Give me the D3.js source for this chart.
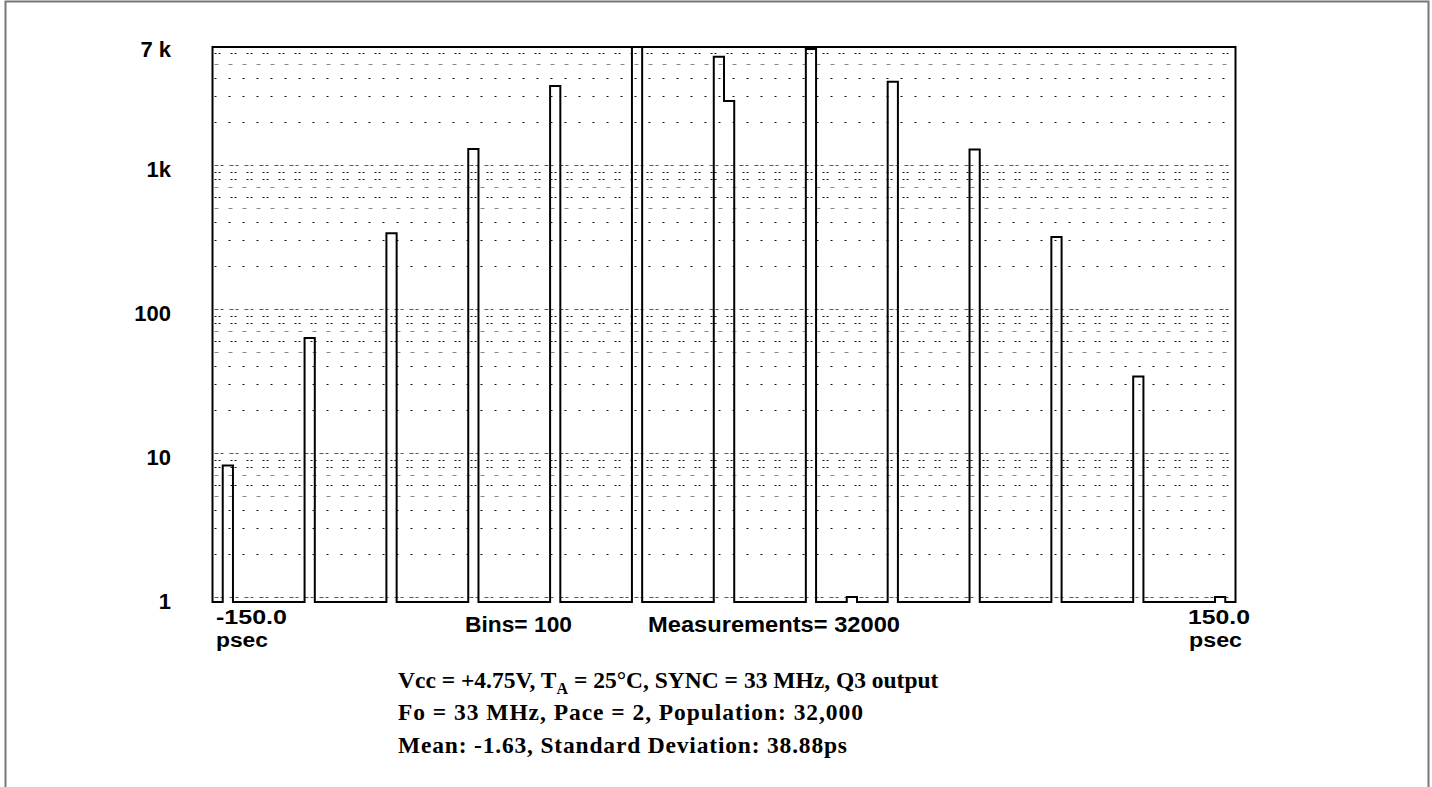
<!DOCTYPE html>
<html>
<head>
<meta charset="utf-8">
<script src="https://cdn.jsdelivr.net/npm/d3@7"></script>
<style>
  body { margin: 0; background: #fff; }
  svg { display: block; }
  .lbl { font-family: "Liberation Sans", Arial, sans-serif; font-weight: bold; font-size: 22px; fill: #000; }
  .sm { font-size: 20px; }
  .cap { font-family: "Liberation Serif", "Times New Roman", serif; font-weight: bold; font-size: 23.5px; fill: #000; }
</style>
</head>
<body>
<div id="chart"></div>
<script>
// histogram data: left edge of each non-empty bin (psec) and its count
var binStartPs = [-147, -123, -99, -75, -51, -27, -3, 0, 24, 36, 48, 72, 96, 120, 144];
var counts     = [8.2, 63, 336, 1290, 3540, 7000, 5650, 2780, 6390, 1, 3790, 1280, 316, 34, 1];
var binWidthPs = 3;
var xDomain = [-150, 150];

var yTickValues = [7000, 1000, 100, 10, 1];
var yTickLabels = ["7 k", "1k", "100", "10", "1"];
var decades = [1, 10, 100, 1000];

var xEndLabels = ["-150.0", "150.0"];
var unitLabel = "psec";
var binsLabel = "Bins= 100";
var measLabel = "Measurements= 32000";

var captionLines = [
  ["Vcc = +4.75V, T", "A", " = 25°C, SYNC = 33 MHz, Q3 output"],
  ["Fo = 33 MHz, Pace = 2, Population: 32,000"],
  ["Mean: -1.63, Standard Deviation: 38.88ps"]
];

var W = 1432, H = 787;
var plotLeft = 212.5, plotRight = 1235.5, plotTop = 47, plotBottom = 602;

var svg = d3.select("#chart").append("svg")
    .attr("width", W)
    .attr("height", H);

svg.append("rect").attr("width", W).attr("height", H).attr("fill", "#fff");

// outer frame (open at the bottom)
svg.append("path")
    .attr("d", "M5.5," + H + "V1.5H1428.5V" + H)
    .attr("fill", "none")
    .attr("stroke", "#777")
    .attr("stroke-width", 2);

var x = d3.scaleLinear().domain(xDomain).range([plotLeft, plotRight]);
var y = d3.scaleLog().domain([1, 1000]).range([597, 165]);

// gridlines at 1..9 x each decade
var gridVals = [];
decades.forEach(function(d) {
  for (var m = 1; m <= 9; m++) {
    var v = m * d;
    if (y(v) > plotTop + 3) gridVals.push({v: v, m: m});
  }
});

var grid = svg.append("g");
grid.selectAll("line")
  .data(gridVals)
  .enter().append("line")
    .attr("x1", plotLeft + 2)
    .attr("x2", plotRight - 1)
    .attr("y1", function(d) { return Math.round(y(d.v)) + 0.5; })
    .attr("y2", function(d) { return Math.round(y(d.v)) + 0.5; })
    .attr("stroke", function(d) {
      if (d.m == 1) return "#555";
      if (d.m == 5 || d.m == 7) return "#888";
      return "#111";
    })
    .attr("stroke-width", 1)
    .attr("stroke-dasharray", function(d) {
      if (d.m == 1) return "4,2,3,6";
      if (d.m == 5 || d.m == 7) return "4,10";
      if (d.m >= 6) return "2,2,2,10";
      return "2,12";
    });

// step outline of the histogram, built over all bins
var nBins = Math.round((xDomain[1] - xDomain[0]) / binWidthPs);
var full = d3.range(nBins).map(function() { return 0; });
binStartPs.forEach(function(s, i) {
  full[Math.round((s - xDomain[0]) / binWidthPs)] = counts[i];
});

var pts = [[x(xDomain[0]), plotBottom]];
full.forEach(function(c, i) {
  var x0 = x(xDomain[0] + i * binWidthPs), x1 = x(xDomain[0] + (i + 1) * binWidthPs);
  var lvl = c > 0 ? y(c) : plotBottom;
  pts.push([x0, lvl]);
  pts.push([x1, lvl]);
});
pts.push([x(xDomain[1]), plotBottom]);

svg.append("clipPath").attr("id", "clip")
  .append("rect")
    .attr("x", plotLeft - 2).attr("y", plotTop)
    .attr("width", plotRight - plotLeft + 4).attr("height", plotBottom - plotTop + 4);

svg.append("path")
    .attr("clip-path", "url(#clip)")
    .attr("d", d3.line()(pts))
    .attr("fill", "none")
    .attr("stroke", "#000")
    .attr("stroke-width", 2);

// plot frame: left, top, right
svg.append("path")
    .attr("d", "M" + plotLeft + "," + (plotBottom + 1) + "V" + plotTop + "H" + plotRight + "V" + (plotBottom + 1))
    .attr("fill", "none")
    .attr("stroke", "#000")
    .attr("stroke-width", 2);

// y labels
svg.append("g").selectAll("text")
  .data(yTickValues)
  .enter().append("text")
    .attr("class", "lbl")
    .attr("x", 171)
    .attr("y", function(d) { return Math.max(y(d), plotTop - 2) + 4; })
    .attr("text-anchor", "end")
    .attr("dominant-baseline", "central")
    .text(function(d, i) { return yTickLabels[i]; });

// x labels
svg.append("text").attr("class", "lbl sm").attr("x", 216).attr("y", 624)
    .attr("textLength", 71).attr("lengthAdjust", "spacingAndGlyphs").text(xEndLabels[0]);
svg.append("text").attr("class", "lbl sm").attr("x", 216).attr("y", 647)
    .attr("textLength", 52).attr("lengthAdjust", "spacingAndGlyphs").text(unitLabel);
svg.append("text").attr("class", "lbl sm").attr("x", 1188).attr("y", 624)
    .attr("textLength", 62).attr("lengthAdjust", "spacingAndGlyphs").text(xEndLabels[1]);
svg.append("text").attr("class", "lbl sm").attr("x", 1189).attr("y", 647)
    .attr("textLength", 53).attr("lengthAdjust", "spacingAndGlyphs").text(unitLabel);
svg.append("text").attr("class", "lbl").attr("x", 465).attr("y", 632)
    .attr("textLength", 107).attr("lengthAdjust", "spacingAndGlyphs").text(binsLabel);
svg.append("text").attr("class", "lbl").attr("x", 648).attr("y", 632)
    .attr("textLength", 252).attr("lengthAdjust", "spacingAndGlyphs").text(measLabel);

// caption
var capY = [688, 720, 753];
var capW = [null, 465, 449];
captionLines.forEach(function(parts, i) {
  var t = svg.append("text").attr("class", "cap").attr("x", 398).attr("y", capY[i]);
  if (parts.length == 1) {
    t.attr("textLength", capW[i]).attr("lengthAdjust", "spacing").text(parts[0]);
  } else {
    t.append("tspan").text(parts[0]);
    t.append("tspan").attr("dy", 6).attr("font-size", "16px").text(parts[1]);
    t.append("tspan").attr("dy", -6).text(parts[2]);
  }
});
</script>
</body>
</html>
